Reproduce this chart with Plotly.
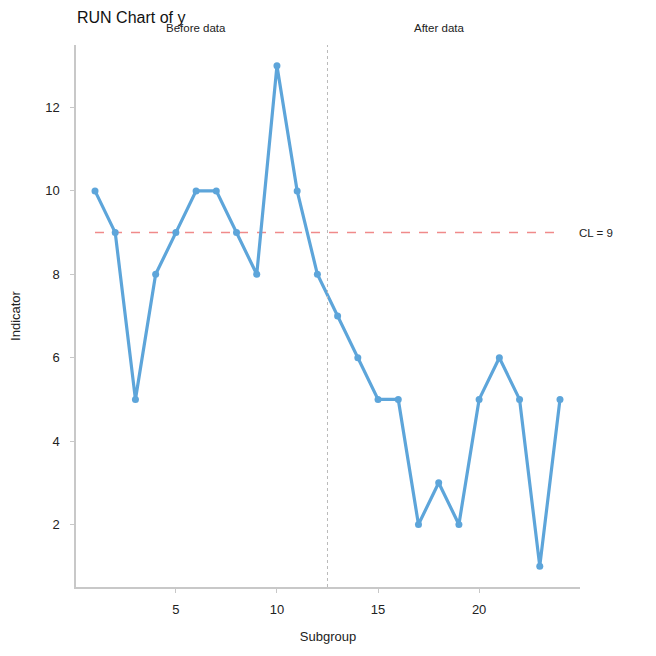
import plotly.graph_objects as go

subgroup = list(range(1, 25))
y_values = [10, 9, 5, 8, 9, 10, 10, 9, 8, 13, 10, 8, 7, 6, 5, 5, 2, 3, 2, 5, 6, 5, 1, 5]
center_line = 9
split_at = 12.5
x_ticks = [5, 10, 15, 20]
y_ticks = [2, 4, 6, 8, 10, 12]

FONT = "Liberation Sans, Arial, sans-serif"
W = H = 648  # page body has an 8px margin

fig = go.Figure()

fig.add_trace(go.Scatter(
    x=[subgroup[0], subgroup[-1]], y=[center_line, center_line], mode="lines",
    line=dict(color="#F08A8A", width=1.5, dash="dash"), hoverinfo="skip", showlegend=False))

fig.add_trace(go.Scatter(
    x=subgroup, y=y_values, mode="lines+markers",
    line=dict(color="#5DA5DA", width=3.2),
    marker=dict(color="#5DA5DA", size=7), showlegend=False))

fig.add_shape(type="line", xref="x", yref="paper", x0=split_at, x1=split_at, y0=0, y1=1,
              line=dict(color="#BBBBBB", width=1, dash="dot"))

fig.add_annotation(x=6, y=1.0, xref="x", yref="paper", yanchor="bottom", yshift=9,
                   text="Before data", showarrow=False, font=dict(size=11.5, color="#222222", family=FONT))
fig.add_annotation(x=18, y=1.0, xref="x", yref="paper", yanchor="bottom", yshift=9,
                   text="After data", showarrow=False, font=dict(size=11.5, color="#222222", family=FONT))
fig.add_annotation(x=1.0, y=center_line, xref="paper", yref="y", xanchor="left", xshift=-3,
                   text="CL = 9", showarrow=False, font=dict(size=11.5, color="#222222", family=FONT))

fig.update_layout(
    width=W, height=H,
    margin=dict(l=68, r=76, t=37, b=69),
    paper_bgcolor="white", plot_bgcolor="white",
    font=dict(family=FONT, color="#222222", size=13),
    title=dict(text="RUN Chart of y", x=69 / W, xanchor="left", y=1 - 9 / H, yanchor="middle",
               font=dict(size=16, color="#111111", family=FONT)),
)
fig.update_xaxes(range=[0.06, 24.99], tickvals=x_ticks, showgrid=False, zeroline=False,
                 showline=True, linecolor="#C8C8C8", linewidth=1.5, automargin=False,
                 ticks="outside", ticklen=4, tickcolor="#C8C8C8", ticklabelstandoff=6,
                 tickfont=dict(size=13, color="#222222"),
                 title=dict(text="Subgroup", font=dict(size=13, color="#222222"), standoff=16))
fig.update_yaxes(range=[0.5, 13.5], tickvals=y_ticks, showgrid=False, zeroline=False,
                 showline=True, linecolor="#C8C8C8", linewidth=1.5, automargin=False,
                 ticks="outside", ticklen=4, tickcolor="#C8C8C8", ticklabelstandoff=8,
                 tickfont=dict(size=13, color="#222222"),
                 title=dict(text="Indicator", font=dict(size=13, color="#222222"), standoff=26))

fig.write_html("out.html")
